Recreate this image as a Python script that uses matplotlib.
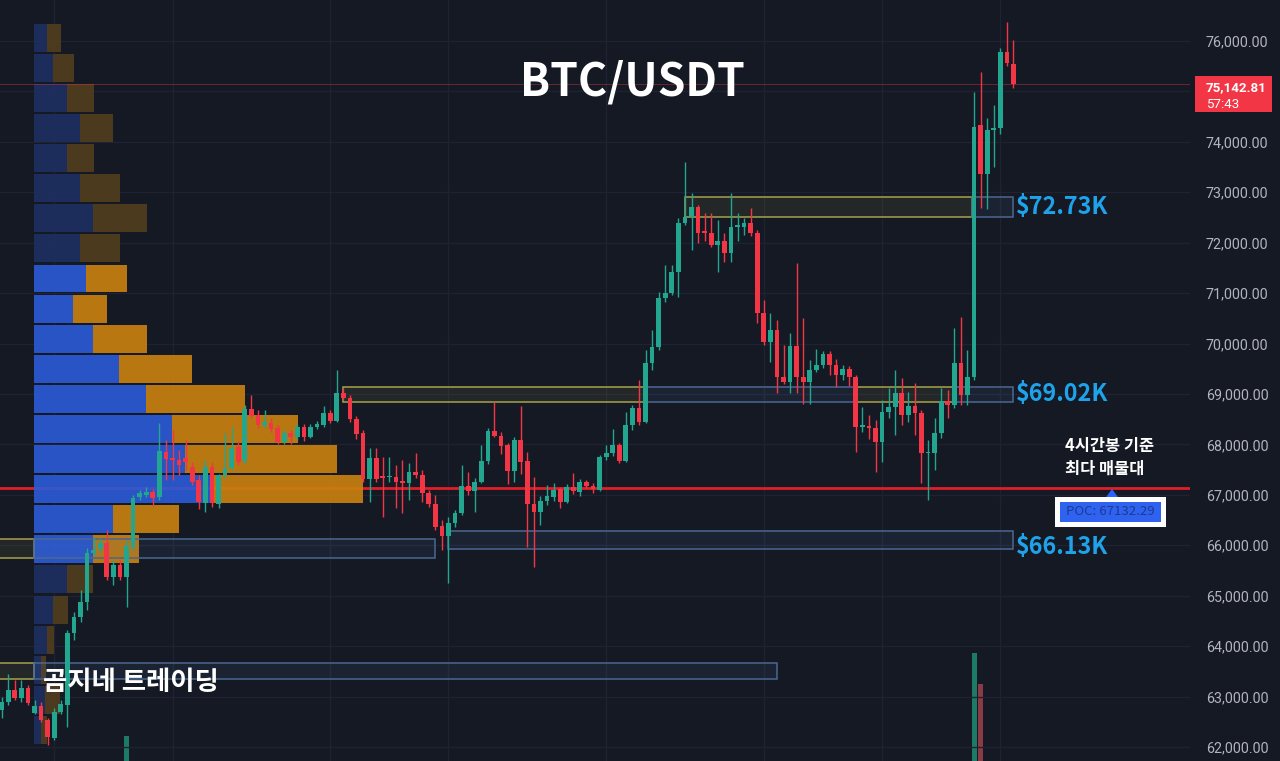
import numpy as np
import matplotlib
matplotlib.use('Agg')
import matplotlib.pyplot as plt
import matplotlib.transforms as mtransforms
from matplotlib.patches import Rectangle, Polygon

plt.rcParams['font.family'] = ['Noto Sans CJK KR', 'DejaVu Sans']

# ---- 4H candles (BTC/USDT) ----
opens = [62734, 62898, 63130, 62972, 63176, 62680, 62813, 62535, 62179, 62694,
         62833, 64261, 64584, 64881, 65847, 65926, 66051, 65371, 65609, 65371,
         65972, 66952, 66997, 67063, 66952, 67856, 67731, 67691, 67731, 67558,
         67295, 66833, 67558, 66819, 67394, 67527, 67955, 67671, 68697, 68584,
         68385, 68431, 68320, 68054, 68221, 68141, 68352, 68153, 68340, 68385,
         68617, 68471, 69014, 68915, 68498, 68221, 67309, 67725, 67360, 67354,
         67360, 67275, 67241, 67459, 67394, 67043, 66819, 66382, 66184, 66436,
         66634, 67176, 67082, 67261, 67671, 68272, 68173, 67989, 67479, 68088,
         67671, 66819, 66654, 66884, 66963, 67110, 66864, 67150, 67063, 67261,
         67176, 67096, 67745, 67824, 67989, 67677, 68385, 68722, 68451, 69615,
         69938, 70904, 71003, 71425, 72391, 72516, 72714, 72232, 72199, 71955,
         72040, 71790, 72318, 72318, 72391, 72199, 70600, 70037, 70269, 69343,
         69244, 69952, 69343, 69244, 69476, 69575, 69793, 69575, 69377, 69496,
         69343, 68352, 68365, 68320, 68054, 68649, 68748, 69014, 68584, 68762,
         68617, 67824, 67824, 68221, 68867, 68782, 69615, 68980, 69343, 74334,
         73357, 74235, 74269, 75788, 75538]
highs = [62992, 63448, 63329, 63329, 63230, 62932, 62892, 62575, 62773, 62932,
         64320, 64677, 65113, 65946, 66164, 66145, 66303, 65708, 65708, 66105,
         66997, 67100, 67150, 67120, 68425, 68088, 68286, 67890, 68088, 67652,
         67394, 67691, 67652, 67420, 68227, 68352, 68068, 68782, 68980, 68683,
         68683, 68524, 68385, 68286, 68286, 68405, 68405, 68405, 68465, 68762,
         68683, 69476, 69119, 68980, 68564, 68286, 67929, 67929, 67757, 67757,
         67592, 67691, 67632, 67830, 67493, 67096, 66997, 66501, 66567, 66700,
         67592, 67459, 67334, 67989, 68326, 68847, 68246, 68028, 68147, 68762,
         67856, 67360, 66977, 67196, 67235, 67156, 67215, 67428, 67314, 67295,
         67235, 67790, 67989, 68300, 68028, 68649, 68782, 69278, 69873, 70269,
         71023, 71558, 71558, 72490, 73607, 72986, 72748, 72589, 72589, 72450,
         72193, 72986, 72589, 72490, 72688, 72252, 70864, 70606, 70467, 69972,
         70210, 71604, 70507, 69674, 69892, 69853, 69853, 69694, 69575, 69555,
         69377, 68742, 68584, 68481, 68881, 69119, 69476, 69317, 69040, 69218,
         68683, 68088, 68524, 69119, 69079, 70309, 70533, 69873, 74983, 75379,
         74473, 74731, 75861, 76383, 76020]
lows = [62575, 62833, 62932, 62892, 62833, 62654, 62496, 62040, 62139, 62654,
        62397, 64122, 64479, 64717, 65788, 65867, 65312, 65213, 65312, 64776,
        65907, 66900, 66950, 66779, 66898, 67295, 67295, 67394, 67493, 67196,
        66720, 66666, 66759, 66739, 67334, 67493, 67592, 67612, 68524, 68326,
        68326, 68246, 68009, 68009, 68009, 68088, 68068, 68128, 68306, 68346,
        68425, 68445, 68881, 68445, 68108, 67255, 66864, 67255, 66567, 67261,
        66739, 66640, 66898, 67334, 66864, 66759, 66303, 65907, 65246, 66363,
        66601, 66997, 66666, 67235, 67612, 68147, 67810, 67215, 67261, 67414,
        65972, 65575, 66402, 66799, 66878, 66733, 66840, 67017, 66977, 67136,
        67037, 67077, 67691, 67771, 67632, 67652, 68286, 68385, 68425, 69476,
        69873, 70824, 70963, 70924, 72351, 71856, 71994, 72034, 71915, 71425,
        71618, 71618, 72034, 72153, 72133, 70408, 69972, 69635, 69020, 69200,
        69020, 69020, 68802, 68802, 69436, 69516, 69377, 69139, 69276, 69159,
        67856, 68246, 68108, 67459, 67652, 68524, 68187, 68385, 68445, 68187,
        67235, 66898, 67493, 68128, 68524, 68722, 68782, 68782, 69276, 72694,
        72669, 73501, 74156, 75504, 75068]
closes = [62898, 63130, 62972, 63170, 62873, 62813, 62535, 62198, 62694, 62853,
          64267, 64584, 64881, 65847, 65907, 66051, 65371, 65609, 65371, 65986,
          66932, 67031, 67063, 66932, 67876, 67711, 67691, 67592, 67652, 67261,
          66864, 67558, 66833, 67394, 67527, 67923, 67658, 68697, 68564, 68385,
          68439, 68300, 68054, 68221, 68141, 68352, 68153, 68352, 68405, 68617,
          68471, 69014, 68915, 68498, 68207, 67309, 67725, 67309, 67340, 67364,
          67261, 67241, 67459, 67394, 67043, 66819, 66369, 66184, 66436, 66646,
          67176, 67082, 67261, 67671, 68272, 68173, 67975, 67479, 68088, 67658,
          66819, 66666, 66884, 66977, 67096, 66864, 67150, 67082, 67261, 67176,
          67110, 67757, 67824, 67989, 67677, 68385, 68722, 68451, 69615, 69938,
          70904, 71003, 71425, 72391, 72516, 72714, 72199, 72199, 71955, 72040,
          71790, 72318, 72322, 72391, 72199, 70600, 70037, 70269, 69343, 69244,
          69952, 69343, 69244, 69476, 69575, 69793, 69575, 69377, 69496, 69343,
          68352, 68365, 68320, 68054, 68649, 68748, 69014, 68584, 68762, 68617,
          67824, 67830, 68221, 68867, 68782, 69615, 68980, 69343, 74300, 73357,
          74235, 74269, 75788, 75558, 75142.81]
volumes = [1.8, 2.1, 1.5, 1.4, 1.6, 1.9, 2.2, 2.9, 2.4, 1.7,
           3.6, 2.5, 2.3, 3.2, 1.9, 1.6, 3.0, 2.2, 2.4, 5.4,
           3.1, 1.5, 1.3, 1.6, 3.0, 2.2, 2.0, 1.7, 1.5, 1.8,
           2.6, 2.7, 2.9, 2.1, 1.9, 2.2, 1.8, 2.8, 2.0, 1.6,
           1.3, 1.2, 1.6, 1.4, 1.3, 1.5, 1.4, 1.3, 1.1, 1.7,
           1.2, 2.9, 1.6, 1.8, 2.0, 3.1, 2.7, 2.2, 2.4, 1.5,
           1.7, 1.9, 1.6, 1.4, 1.8, 1.5, 2.1, 2.0, 2.9, 1.6,
           2.3, 1.4, 1.5, 1.9, 2.4, 1.8, 1.6, 2.1, 2.0, 2.6,
           3.3, 3.1, 1.9, 1.5, 1.3, 1.6, 1.4, 1.3, 1.2, 1.0,
           1.1, 2.2, 1.3, 1.6, 1.5, 2.5, 1.9, 2.0, 3.0, 2.3,
           3.2, 1.8, 2.1, 3.4, 3.1, 2.2, 2.0, 1.5, 1.7, 2.0,
           1.8, 2.3, 1.4, 1.2, 1.6, 3.5, 2.6, 2.4, 2.8, 1.9,
           2.5, 3.0, 2.2, 1.9, 1.4, 1.3, 1.2, 1.4, 1.1, 1.3,
           3.2, 1.8, 1.5, 2.2, 2.4, 1.7, 2.0, 1.9, 1.6, 1.8,
           3.0, 2.1, 1.9, 2.3, 1.5, 3.3, 3.5, 2.0, 10.0, 8.3,
           3.8, 2.4, 3.6, 3.4, 2.2]

# ---- volume profile (top row first) ----
vp_top, vp_bottom = 76363, 62040
vp_buy = [12.7, 19.3, 32.7, 46.0, 32.7, 46.0, 59.3, 46.0, 52.0, 39.3, 58.7, 85.3,
          111.7, 137.7, 151.0, 176.0, 78.7, 58.7, 32.7, 19.3, 12.7, 6.7, 11.0, 6.7]
vp_sell = [14.3, 20.7, 27.3, 33.3, 27.3, 40.0, 53.4, 40.0, 40.7, 33.4, 54.0, 72.7,
           99.3, 126.0, 152.3, 153.3, 66.3, 46.6, 26.6, 15.0, 7.3, 5.0, 15.0, 6.0]
value_area_rows = list(range(8, 18))
poc_price = 67132.29

# ---- zones: (start candle, end candle, low, high, kind) ----
zones = [(104.0, 147.7, 72516, 72900, 'y'), (147.7, 153.9, 72516, 72900, 'b'),
         (51.9, 98.1, 68835, 69145, 'y'), (98.1, 130.2, 68835, 69145, 'b'),
         (130.2, 144.8, 68835, 69145, 'y'), (144.8, 153.9, 68835, 69145, 'b'),
         (67.9, 153.9, 65920, 66283, 'b'),
         (-1.0, 4.9, 65742, 66119, 'y'), (4.9, 66.0, 65742, 66119, 'b'),
         (-1.0, 4.9, 63343, 63672, 'y'), (4.9, 118.0, 63343, 63672, 'b')]
zone_labels = [('$72.73K', 72700), ('$69.02K', 68990), ('$66.13K', 65960)]
day_lines = [8, 26, 50, 68, 92, 116, 134, 152]

bg = '#151924'
up, down = '#22a68f', '#f23645'
grid_c = '#1f2331'

fig = plt.figure(figsize=(12.8, 7.61), dpi=100, facecolor=bg)
ax = fig.add_axes([0, 0, 1190 / 1280, 1])
axv = ax.twinx()
axp = ax.twiny()
axv.set_zorder(0)
axp.set_zorder(1)
ax.set_zorder(2)
for a in (ax, axv, axp):
    a.patch.set_visible(False)
axv.axis('off')
axp.axis('off')

n = len(closes)
idx = np.arange(n)
ax.set_xlim(-0.26, 180.87)
ax.set_ylim(61722, 76813)

# volume histogram (bottom, mostly below view)
vcol = ['#1d7a69' if c >= o else '#8a3a45' for o, c in zip(opens, closes)]
axv.bar(idx, volumes, width=0.75, color=vcol)
axv.set_ylim(4.0, 46.3)
for d in day_lines:
    axv.axvline(d, color=grid_c, lw=1, zorder=0)

# horizontal grid + POC line + volume profile
axp.set_xlim(-34, 1156)
for p in range(62000, 76001, 1000):
    axp.axhline(p, color=grid_c, lw=1, zorder=0)
axp.axhline(poc_price, color='#e01e28', lw=2, zorder=1)
edges = np.linspace(vp_top, vp_bottom, len(vp_buy) + 1)
centers = (edges[:-1] + edges[1:]) / 2
row_h = (vp_top - vp_bottom) / len(vp_buy) * 0.93
bcol = ['#2c5bd8' if k in value_area_rows else '#1d3063' for k in range(len(vp_buy))]
ocol = ['#cc820f' if k in value_area_rows else '#533e1f' for k in range(len(vp_buy))]
axp.barh(centers, vp_buy, height=row_h, color=bcol, alpha=0.9, zorder=2)
axp.barh(centers, vp_sell, left=vp_buy, height=row_h, color=ocol, alpha=0.9, zorder=2)

# zones
for s, e, lo, hi, kind in zones:
    if kind == 'y':
        fc, ec = (0.85, 0.82, 0.3, 0.08), '#a6a24a'
    else:
        fc, ec = (0.35, 0.5, 0.75, 0.1), '#4a6890'
    ax.add_patch(Rectangle((s, lo), e - s, hi - lo, fc=fc, ec=ec, lw=1.1, zorder=3))
for txt, p in zone_labels:
    ax.text(154.4, p, txt, color='#1ea2ea', fontsize=16.8, fontweight='bold',
            ha='left', va='center', zorder=6)

# current price line
ax.axhline(closes[-1], color=down, lw=0.7, alpha=0.4, zorder=2)

# candles
for i in range(n):
    o, h, l, c = opens[i], highs[i], lows[i], closes[i]
    col = up if c >= o else down
    ax.vlines(i, l, h, color=col, lw=1, zorder=4)
    ax.bar(i, max(abs(c - o), 25), bottom=min(o, c), width=0.72, color=col, zorder=5)

# y axis on the right (the 75,000 label sits under the last-price tag)
ax.yaxis.tick_right()
ticks = list(range(62000, 76001, 1000))
ax.set_yticks(ticks)
ax.set_yticklabels(['' if t == 75000 else f'{t:,.2f}' for t in ticks])
ax.tick_params(axis='y', length=0, pad=11.5, labelcolor='#b2b5be', labelsize=10.3)
for lab in ax.get_yticklabels():
    lab.set_family('Roboto')
ax.set_xticks([])
for sp in ax.spines.values():
    sp.set_visible(False)

# last price tag
blend = mtransforms.blended_transform_factory(ax.transAxes, ax.transData)
last = closes[-1]
ax.add_patch(Rectangle((1.0042, last - 549), 0.0647, 714, transform=blend,
                       fc=down, ec='none', clip_on=False, zorder=10))
ax.text(1.0135, last - 70, f'{last:,.2f}', transform=blend, color='white',
        fontsize=9.6, family='Roboto', fontweight='bold', va='center', ha='left',
        zorder=11, clip_on=False)
ax.text(1.0135, last - 400, '57:43', transform=blend, color='white',
        fontsize=9.6, family='Roboto', va='center', ha='left', zorder=11, clip_on=False)

# POC label
ax.add_patch(Polygon([(168.1, 66957), (169.9, 66957), (169.0, 67116)],
                     closed=True, fc='#2962ff', ec='none', zorder=7))
ax.add_patch(Rectangle((160.3, 66363), 16.9, 594, fc='white', ec='none', zorder=7))
ax.add_patch(Rectangle((161.1, 66462), 15.4, 396, fc='#2f62ee', ec='none', zorder=8))
ax.text(168.7, 66660, f'POC: {poc_price:.2f}', color='#1b3a94', fontsize=9.5,
        ha='center', va='center', zorder=9)
ax.text(161.8, 67741, '4시간봉 기준\n최다 매물대', color='white', fontsize=11.8,
        fontweight='bold', ha='left', va='center', linespacing=1.3, zorder=9)

ax.text(6.3, 63269, '곰지네 트레이딩', color='white', fontsize=19,
        fontweight='bold', ha='left', va='center', zorder=9)

fig.text(632 / 1280, 1 - 82 / 761, 'BTC/USDT', color='white', fontsize=32,
         fontweight='bold', ha='center', va='center')

fig.savefig('out.png', dpi=100, facecolor=bg)
